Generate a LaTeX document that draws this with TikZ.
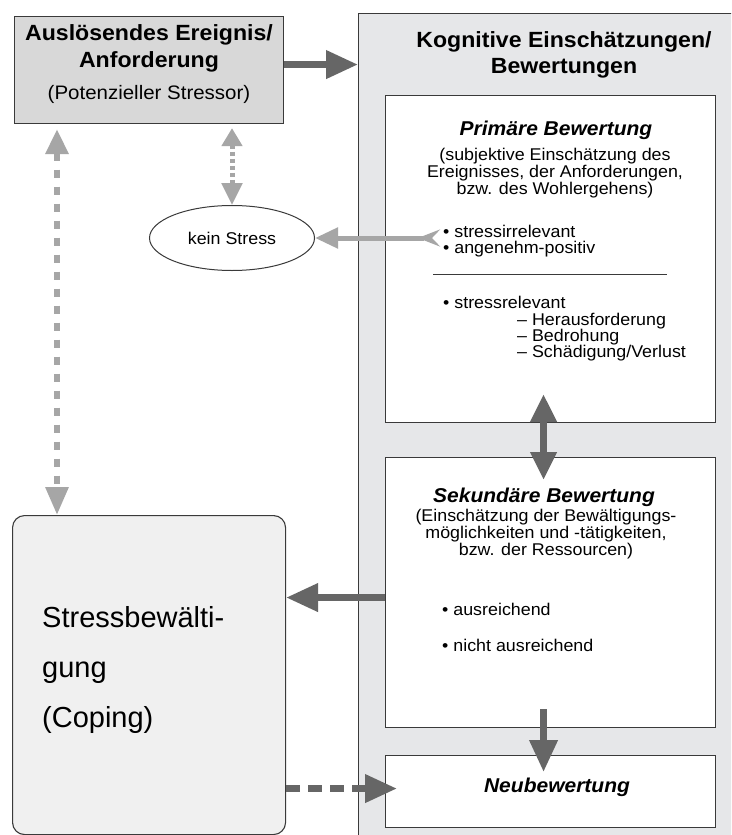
\documentclass[tikz,border=0pt]{standalone}
\usepackage{fontspec}
\setmainfont{Liberation Sans}[FakeStretch=1.05]
\newfontfamily\plainsans{Liberation Sans}
\usetikzlibrary{arrows.meta,shapes.geometric}
\definecolor{paneltint}{HTML}{E6E7E9}
\definecolor{triggertint}{HTML}{D8D8D8}
\definecolor{copingtint}{HTML}{F0F0F0}
\definecolor{arrowdark}{HTML}{666666}
\definecolor{arrowlight}{HTML}{A6A6A6}
\definecolor{edgegray}{HTML}{3A3A3A}
\newcommand\setfs[2]{\fontsize{#1}{#2}\selectfont}

\begin{document}
\begin{tikzpicture}[x=1pt,y=-1pt,
  box/.style={draw=edgegray, line width=1.1pt, inner sep=0pt, anchor=north west},
  txt/.style={inner sep=0pt, anchor=base},
  txtl/.style={inner sep=0pt, anchor=base west},
  headfont/.style={font=\bfseries\setfs{22}{26}},
  titlefont/.style={font=\bfseries\itshape\setfs{20}{20}},
  bodyfont/.style={font=\setfs{17}{15.5}},
  heavy/.style={draw=arrowdark, line width=7pt, -{Triangle[length=32pt,width=27pt]}},
  heavytwo/.style={draw=arrowdark, line width=7pt, {Triangle[length=28pt,width=25pt]}-{Triangle[length=28pt,width=25pt]}},
  dashlink/.style={draw=arrowdark, line width=7pt, dash pattern=on 14pt off 8pt, -{Triangle[length=32pt,width=27pt]}},
  lightlink/.style={draw=arrowlight, line width=5pt, {Stealth[reversed,length=22pt,width=17pt,inset=8pt]}-{Triangle[length=23pt,width=20pt]}},
  dotlink/.style={draw=arrowlight, line width=6pt, dash pattern=on 8pt off 9pt, {Triangle[length=25pt,width=22pt]}-{Triangle[length=28pt,width=22pt]}},
  shortdot/.style={draw=arrowlight, line width=5pt, dash pattern=on 4pt off 3pt, {Triangle[length=18pt,width=20pt]}-{Triangle[length=22pt,width=20pt]}},
]
\useasboundingbox (0,0) rectangle (731,835);
\fill[white] (0,0) rectangle (731,835);
\clip (0,0) rectangle (731,835);

% boxes
\node[box, fill=paneltint, minimum width=420pt, minimum height=900pt] (panel) at (358,13) {};
\node[box, fill=triggertint, minimum width=269pt, minimum height=107pt] (trigger) at (14,16) {};
\node[box, fill=white, minimum width=330pt, minimum height=327pt] (primary) at (385,95) {};
\node[box, fill=white, minimum width=330pt, minimum height=270pt] (secondary) at (385,457) {};
\node[box, fill=white, minimum width=330pt, minimum height=72pt] (reappraisal) at (385,755) {};
\node[box, fill=copingtint, rounded corners=12pt, minimum width=273pt, minimum height=319pt] (coping) at (12,515) {};
\node[draw=edgegray, fill=white, line width=1pt, ellipse, minimum width=165pt, minimum height=65pt, inner sep=0pt, font=\setfs{17}{17}] (nostress) at (232,238) {kein Stress};

% trigger box
\node[txt, headfont] (trigA) at (149,40) {Auslösendes Ereignis/};
\node[txt, headfont] (trigB) at (149,67) {Anforderung};
\node[txt, font=\setfs{19.5}{19.5}] (trigC) at (149,99) {(Potenzieller Stressor)};

% panel heading
\node[txt, headfont] (panA) at (564,47) {Kognitive Einschätzungen/};
\node[txt, headfont] (panB) at (564,73) {Bewertungen};

% primary appraisal (base anchor of a multi-line node sits on its last line)
\node[txt, titlefont] (priT) at (556,135) {Primäre Bewertung};
\node[txt, bodyfont, align=center] (priP) at (555,194) {(subjektive Einschätzung des\\Ereignisses, der Anforderungen,\\bzw. des Wohlergehens)};
\node[txtl, bodyfont] (priB1) at (443,237) {• stressirrelevant};
\node[txtl, bodyfont] (priB2) at (443,253) {• angenehm-positiv};
\draw[edgegray, line width=1pt] (433,274) -- (667,274);
\node[txtl, bodyfont] (priB3) at (443,308) {• stressrelevant};
\node[txtl, bodyfont] (priS1) at (517,325) {– Herausforderung};
\node[txtl, bodyfont] (priS2) at (517,341) {– Bedrohung};
\node[txtl, bodyfont] (priS3) at (517,357) {– Schädigung/Verlust};

% secondary appraisal
\node[txt, titlefont] (secT) at (544,502) {Sekundäre Bewertung};
\node[txt, bodyfont, align=center] (secP) at (546,555) {(Einschätzung der Bewältigungs-\\möglichkeiten und -tätigkeiten,\\bzw. der Ressourcen)};
\node[txtl, bodyfont] (secB1) at (442,615) {• ausreichend};
\node[txtl, bodyfont] (secB2) at (442,651) {• nicht ausreichend};

% reappraisal
\node[txt, titlefont] (reT) at (557,792) {Neubewertung};

% coping
\node[txtl, align=left, font=\plainsans\setfs{29}{50}] (copT) at (42,727) {Stressbewälti-\\gung\\(Coping)};

% connectors
\draw[heavy] ([yshift=5.5pt]trigger.east) -- ([yshift=5.5pt]trigger.east -| panel.west);
\coordinate (irrel) at (440,238);
\draw[lightlink] (irrel) -- (nostress.east);
\path (trigger.south -| nostress.north) coordinate (dotTop);
\draw[shortdot] ([yshift=-4pt]dotTop) -- (nostress.north);
\draw[dotlink] ([xshift=43pt,yshift=-5pt]trigger.south west) -- ([xshift=45pt]coping.north west);
\draw[heavytwo] ([xshift=-7pt,yshift=29pt]primary.south) -- ([xshift=-7pt,yshift=-23pt]secondary.north);
\draw[heavy] ([xshift=-7pt,yshift=19pt]secondary.south) -- ([xshift=-7pt,yshift=-17pt]reappraisal.north);
\coordinate (copeIn) at ([yshift=-5pt]secondary.west);
\draw[heavy] (copeIn) -- (copeIn -| coping.east);
\coordinate (reIn) at ([xshift=12pt,yshift=3pt]reappraisal.west);
\draw[dashlink] (reIn -| coping.east) -- (reIn);
\end{tikzpicture}
\end{document}
